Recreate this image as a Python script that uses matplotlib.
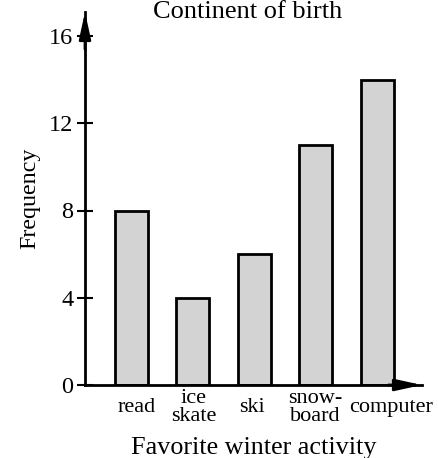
import matplotlib.pyplot as plt
import matplotlib.transforms as mtransforms
import numpy as np

activities = ['read', 'ice\nskate', 'ski', 'snow-\nboard', 'computer']
frequency = [8, 4, 6, 11, 14]
yticks = [0, 4, 8, 12, 16]

plt.rcParams['font.family'] = ['Liberation Serif', 'DejaVu Serif']

W, H = 438, 458
fig = plt.figure(figsize=(W / 100, H / 100), dpi=100)

# axes box in pixels: x 85..422, y 385 (value 0) .. 12
left, right, bottom, top = 85, 422, 385, 12
ax = fig.add_axes([left / W, (H - bottom) / H, (right - left) / W, (bottom - top) / H])

unit = 61.4  # px between bar centers
x0 = 131.5   # px of first bar center
ax.set_xlim((left - x0) / unit, (right - x0) / unit)
px_per_val = (385 - 36) / 16
ax.set_ylim(0, (bottom - top) / px_per_val)

x = np.arange(len(activities))
ax.bar(x, frequency, width=0.54, color='#d3d3d3', edgecolor='black', linewidth=2)

for s in ['top', 'right']:
    ax.spines[s].set_visible(False)
for s in ['left', 'bottom']:
    ax.spines[s].set_linewidth(2)

arrow = dict(arrowstyle='-|>,head_length=1.6,head_width=0.35', color='black',
             lw=2, mutation_scale=10, shrinkA=0, shrinkB=0)
ax.annotate('', xy=(1, 0), xytext=(0.9, 0), xycoords='axes fraction', arrowprops=arrow)
ax.annotate('', xy=(0, 1), xytext=(0, 0.9), xycoords='axes fraction', arrowprops=arrow)

ax.set_yticks(yticks)
ax.tick_params(axis='y', direction='inout', length=11, width=1.5, labelsize=17.5, pad=3)
ax.set_xticks(x)
ax.set_xticklabels(activities, fontsize=16, linespacing=0.95)
ax.tick_params(axis='x', length=0, pad=16)
shifts = [5, 1, -2, 0, 14]
for lab, dx in zip(ax.get_xticklabels(), shifts):
    lab.set_verticalalignment('center')
    lab.set_transform(lab.get_transform() +
                      mtransforms.ScaledTranslation(dx / 100, 0, fig.dpi_scale_trans))

ax.set_ylabel('Frequency', fontsize=17.3, labelpad=6)
ax.set_xlabel('Favorite winter activity', fontsize=18.8, labelpad=8)

fig.text(248 / W, 1 - 18 / H, 'Continent of birth', ha='center', va='baseline', fontsize=19)

fig.savefig('out.png', dpi=100)
